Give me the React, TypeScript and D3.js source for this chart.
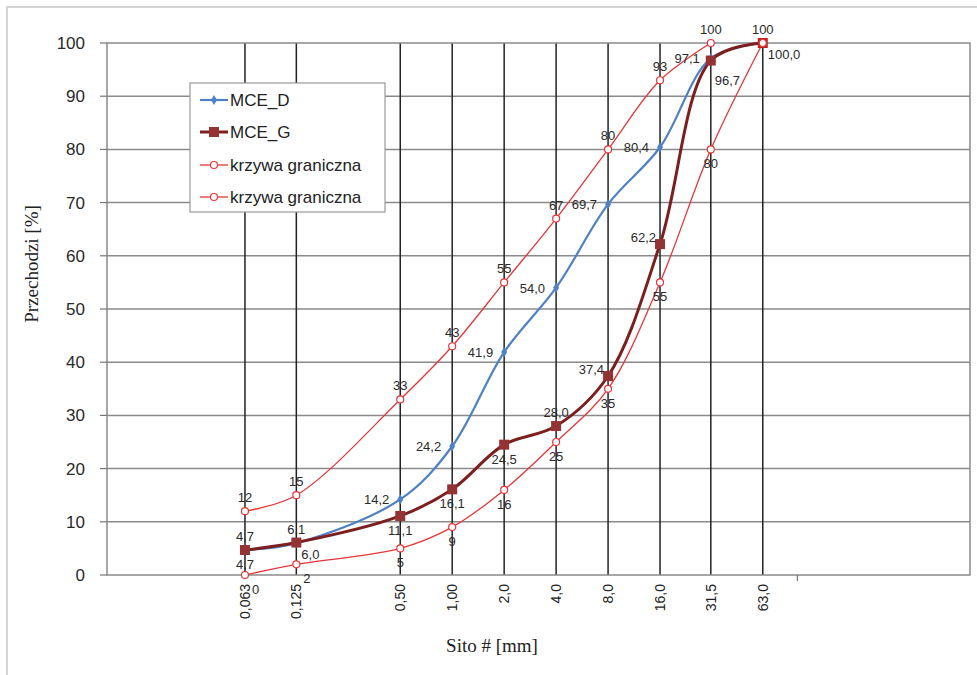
import * as d3 from "d3";

// sieve sizes [mm] and their printed tick labels
const sieves = [0.063, 0.125, 0.5, 1, 2, 4, 8, 16, 31.5, 63];
const sieveLabels = ["0,063", "0,125", "0,50", "1,00", "2,0", "4,0", "8,0", "16,0", "31,5", "63,0"];
const yTicks = [0, 10, 20, 30, 40, 50, 60, 70, 80, 90, 100];

const mceD = [4.7, 6.0, 14.2, 24.2, 41.9, 54.0, 69.7, 80.4, 97.1, 100];
const mceG = [4.7, 6.1, 11.1, 16.1, 24.5, 28.0, 37.4, 62.2, 96.7, 100.0];
const upperLimit = [12, 15, 33, 43, 55, 67, 80, 93, 100];
const lowerLimit = [0, 2, 5, 9, 16, 25, 35, 55, 80, 100];

// where each point's label sits (null = no label)
const posD = ["b", "br", "l", "l", "l", "l", "l", "l", "l", null];
const posG = ["a", "a", "b", "b", "b", "a", "la", "la", "bbr", "br"];
const posU = ["a", "a", "a", "a", "a", "a", "a", "a", "a"];
const posL = ["br2", "br2", "b", "b", "b", "b", "b", "b", "b", "a"];

const W = 977, H = 675;
const x = d3.scaleLog().domain([0.01, 1000]).range([107, 970]);
const y = d3.scaleLinear().domain([0, 100]).range([575, 43]);

const BLUE = "#4f81c7";
const BROWN = "#7d1f1f";
const BROWN_M = "#933333";
const RED = "#e8353a";

const fmt = (v: number, dec: boolean) => (dec ? v.toFixed(1) : String(v)).replace(".", ",");

function offset(p: string) {
  switch (p) {
    case "a": return { dx: 0, dy: -9, anchor: "middle" };
    case "b": return { dx: 0, dy: 19, anchor: "middle" };
    case "l": return { dx: -11, dy: 5, anchor: "end" };
    case "la": return { dx: -4, dy: -2, anchor: "end" };
    case "br": return { dx: 5, dy: 16, anchor: "start" };
    case "bbr": return { dx: 4, dy: 24, anchor: "start" };
    case "br2": return { dx: 7, dy: 19, anchor: "start" };
    default: return { dx: 0, dy: 0, anchor: "middle" };
  }
}

function lineFor(vals: number[]) {
  return d3.line<number>()
    .x((_, i) => x(sieves[i]))
    .y((v) => y(v))
    .curve(d3.curveCatmullRom.alpha(0.5))(vals) || "";
}

function Labels({ vals, pos, dec }: { vals: number[]; pos: (string | null)[]; dec: boolean }) {
  return (
    <g fontFamily="Arial, 'Liberation Sans', sans-serif" fontSize={13} fill="#2a2a2a">
      {vals.map((v, i) => {
        const p = pos[i];
        if (!p) return null;
        const o = offset(p);
        return (
          <text key={i} x={x(sieves[i]) + o.dx} y={y(v) + o.dy} textAnchor={o.anchor}>
            {fmt(v, dec)}
          </text>
        );
      })}
    </g>
  );
}

export default function App() {
  const diamond = d3.symbol().type(d3.symbolDiamond).size(30)() || "";
  return (
    <svg width={W} height={H} style={{ position: "absolute", left: 0, top: 0, background: "#fff" }}>
      {/* image frame */}
      <path d={`M7,${H} V7 H${W}`} fill="none" stroke="#c8c8c8" strokeWidth={1.5} />

      {/* horizontal grid */}
      {yTicks.slice(1, -1).map((t) => (
        <line key={t} x1={107} x2={970} y1={y(t)} y2={y(t)} stroke="#8a8a8a" strokeWidth={1.5} />
      ))}
      {/* vertical grid at sieves */}
      {sieves.map((s) => (
        <line key={s} x1={x(s)} x2={x(s)} y1={y(100)} y2={y(0)} stroke="#222" strokeWidth={1.5} />
      ))}
      <rect x={107} y={y(100)} width={970 - 107} height={y(0) - y(100)} fill="none" stroke="#8a8a8a" strokeWidth={1.5} />

      {/* y axis */}
      {yTicks.map((t) => (
        <g key={t}>
          <line x1={100} x2={107} y1={y(t)} y2={y(t)} stroke="#777" strokeWidth={1.2} />
          <text x={85} y={y(t) + 6} textAnchor="end" fontFamily="Arial, 'Liberation Sans', sans-serif" fontSize={17} fill="#2a2a2a">{t}</text>
        </g>
      ))}
      <line x1={x(100)} x2={x(100)} y1={575} y2={581} stroke="#777" strokeWidth={1.2} />

      {/* x tick labels */}
      {sieves.map((s, i) => (
        <text key={s} transform={`translate(${x(s) + 5},584) rotate(-90)`} textAnchor="end"
          fontFamily="Arial, 'Liberation Sans', sans-serif" fontSize={14} fill="#222">{sieveLabels[i]}</text>
      ))}

      {/* axis titles */}
      <text transform="translate(38,264) rotate(-90)" textAnchor="middle" fontFamily="'Liberation Serif', 'Times New Roman', serif" fontSize={19} fill="#222">Przechodzi [%]</text>
      <text x={492} y={652} textAnchor="middle" fontFamily="'Liberation Serif', 'Times New Roman', serif" fontSize={19} fill="#222">Sito # [mm]</text>

      {/* limit curves */}
      <path d={lineFor(upperLimit)} fill="none" stroke={RED} strokeWidth={1.3} />
      <path d={lineFor(lowerLimit)} fill="none" stroke={RED} strokeWidth={1.3} />
      {/* MCE_D */}
      <path d={lineFor(mceD)} fill="none" stroke={BLUE} strokeWidth={2.2} />
      {mceD.map((v, i) => (
        <path key={i} d={diamond} transform={`translate(${x(sieves[i])},${y(v)})`} fill={BLUE} />
      ))}
      {/* MCE_G */}
      <path d={lineFor(mceG)} fill="none" stroke={BROWN} strokeWidth={3} />
      {mceG.map((v, i) => (
        <rect key={i} x={x(sieves[i]) - 5} y={y(v) - 5} width={10} height={10} fill={i === mceG.length - 1 ? "#c41e1e" : BROWN_M} />
      ))}
      {upperLimit.map((v, i) => (
        <circle key={"u" + i} cx={x(sieves[i])} cy={y(v)} r={3.5} fill="#fff" stroke={RED} strokeWidth={1.2} />
      ))}
      {lowerLimit.map((v, i) => (
        <circle key={"l" + i} cx={x(sieves[i])} cy={y(v)} r={3.5} fill="#fff" stroke={RED} strokeWidth={1.2} />
      ))}

      {/* point labels */}
      <Labels vals={upperLimit} pos={posU} dec={false} />
      <Labels vals={lowerLimit} pos={posL} dec={false} />
      <Labels vals={mceD} pos={posD} dec={true} />
      <Labels vals={mceG} pos={posG} dec={true} />

      {/* legend */}
      <g fontFamily="Arial, 'Liberation Sans', sans-serif" fontSize={17} fill="#222">
        <rect x={190} y={83} width={195} height={129} fill="#fff" stroke="#999" strokeWidth={1.2} />
        <line x1={200} x2={228} y1={100} y2={100} stroke={BLUE} strokeWidth={2.2} />
        <path d={diamond} transform="translate(214,100)" fill={BLUE} />
        <text x={230} y={106}>MCE_D</text>
        <line x1={200} x2={228} y1={132} y2={132} stroke={BROWN} strokeWidth={3} />
        <rect x={209} y={127} width={10} height={10} fill={BROWN_M} />
        <text x={230} y={138}>MCE_G</text>
        <line x1={200} x2={228} y1={165} y2={165} stroke={RED} strokeWidth={1.3} />
        <circle cx={214} cy={165} r={3.5} fill="#fff" stroke={RED} strokeWidth={1.2} />
        <text x={230} y={171}>krzywa graniczna</text>
        <line x1={200} x2={228} y1={197} y2={197} stroke={RED} strokeWidth={1.3} />
        <circle cx={214} cy={197} r={3.5} fill="#fff" stroke={RED} strokeWidth={1.2} />
        <text x={230} y={203}>krzywa graniczna</text>
      </g>
    </svg>
  );
}
